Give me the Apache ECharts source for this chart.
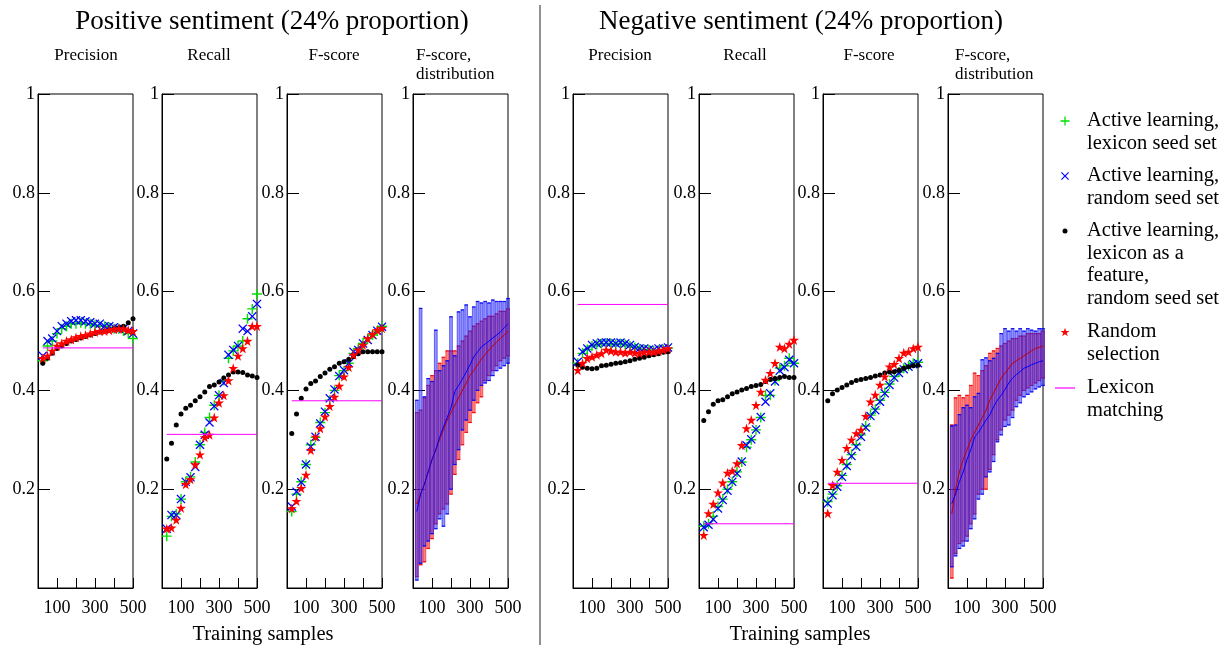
<!DOCTYPE html>
<html>
<head>
<meta charset="utf-8">
<script src="https://cdn.jsdelivr.net/npm/echarts@6/dist/echarts.min.js"></script>
<style>
  html, body { margin: 0; background: #fff; }
  #chart { width: 1230px; height: 645px; }
</style>
</head>
<body>
<div id="chart"></div>
<script>
// training sample sizes for the scatter panels and the distribution panels
const xs = [25, 50, 75, 100, 125, 150, 175, 200, 225, 250, 275, 300, 325, 350, 375, 400, 425, 450, 475, 500];
const xd = [20, 40, 60, 80, 100, 120, 140, 160, 180, 200, 220, 240, 260, 280, 300, 320, 340, 360, 380, 400, 420, 440, 460, 480, 500];
const xTicks = [100, 300, 500];
const yTicks = [0.2, 0.4, 0.6, 0.8, 1];

// positive sentiment
const posPrecGreen = [0.46, 0.49, 0.50, 0.515, 0.525, 0.53, 0.535, 0.535, 0.537, 0.535, 0.535, 0.532, 0.53, 0.53, 0.528, 0.525, 0.525, 0.52, 0.515, 0.505];
const posPrecBlue  = [0.47, 0.50, 0.505, 0.52, 0.53, 0.535, 0.54, 0.542, 0.542, 0.54, 0.538, 0.535, 0.535, 0.53, 0.53, 0.528, 0.525, 0.525, 0.52, 0.515];
const posPrecBlack = [0.455, 0.465, 0.475, 0.485, 0.49, 0.495, 0.50, 0.503, 0.506, 0.509, 0.512, 0.515, 0.518, 0.52, 0.522, 0.525, 0.527, 0.53, 0.537, 0.545];
const posPrecRed   = [0.465, 0.47, 0.48, 0.49, 0.495, 0.50, 0.503, 0.507, 0.51, 0.512, 0.515, 0.518, 0.52, 0.52, 0.522, 0.524, 0.525, 0.525, 0.522, 0.52];

const posRecGreen = [0.105, 0.145, 0.15, 0.18, 0.215, 0.225, 0.255, 0.29, 0.315, 0.345, 0.37, 0.39, 0.42, 0.465, 0.48, 0.49, 0.50, 0.545, 0.565, 0.595];
const posRecBlue  = [0.12, 0.148, 0.148, 0.18, 0.215, 0.224, 0.245, 0.29, 0.31, 0.335, 0.368, 0.39, 0.415, 0.472, 0.482, 0.49, 0.525, 0.52, 0.55, 0.575];
const posRecBlack = [0.261, 0.293, 0.330, 0.352, 0.364, 0.370, 0.379, 0.387, 0.397, 0.408, 0.411, 0.417, 0.425, 0.431, 0.437, 0.437, 0.436, 0.431, 0.429, 0.426];
const posRecRed   = [0.12, 0.122, 0.138, 0.162, 0.21, 0.22, 0.25, 0.27, 0.305, 0.31, 0.345, 0.375, 0.39, 0.42, 0.445, 0.47, 0.485, 0.50, 0.53, 0.53];

const posFGreen = [0.155, 0.19, 0.215, 0.25, 0.29, 0.305, 0.335, 0.355, 0.38, 0.40, 0.43, 0.44, 0.455, 0.475, 0.485, 0.495, 0.505, 0.512, 0.52, 0.53];
const posFBlue  = [0.165, 0.195, 0.214, 0.25, 0.286, 0.306, 0.333, 0.357, 0.384, 0.402, 0.429, 0.441, 0.455, 0.478, 0.482, 0.495, 0.502, 0.512, 0.521, 0.529];
const posFBlack = [0.313, 0.352, 0.384, 0.403, 0.414, 0.419, 0.428, 0.435, 0.443, 0.448, 0.455, 0.458, 0.463, 0.468, 0.474, 0.478, 0.478, 0.478, 0.478, 0.478];
const posFRed   = [0.161, 0.176, 0.202, 0.229, 0.279, 0.306, 0.323, 0.347, 0.368, 0.387, 0.409, 0.428, 0.447, 0.472, 0.482, 0.492, 0.505, 0.514, 0.522, 0.526];

const lexPos = [0.486, 0.311, 0.379];

const posDistRedLo   = [0.023, 0.047, 0.053, 0.08, 0.10, 0.13, 0.15, 0.16, 0.17, 0.19, 0.23, 0.26, 0.29, 0.315, 0.335, 0.355, 0.375, 0.387, 0.42, 0.43, 0.44, 0.45, 0.46, 0.465, 0.47];
const posDistRedHi   = [0.355, 0.36, 0.385, 0.41, 0.43, 0.44, 0.455, 0.467, 0.48, 0.48, 0.48, 0.49, 0.50, 0.51, 0.52, 0.53, 0.535, 0.54, 0.545, 0.55, 0.55, 0.555, 0.56, 0.56, 0.565];
const posDistRedMean = [0.17, 0.19, 0.21, 0.235, 0.26, 0.28, 0.30, 0.32, 0.34, 0.355, 0.37, 0.385, 0.40, 0.415, 0.43, 0.44, 0.452, 0.463, 0.473, 0.482, 0.49, 0.498, 0.505, 0.512, 0.52];
const posDistBlueLo   = [0.016, 0.05, 0.085, 0.095, 0.11, 0.12, 0.14, 0.125, 0.15, 0.2, 0.25, 0.28, 0.32, 0.34, 0.36, 0.38, 0.40, 0.41, 0.415, 0.42, 0.43, 0.44, 0.445, 0.45, 0.455];
const posDistBlueHi   = [0.38, 0.566, 0.387, 0.424, 0.418, 0.522, 0.44, 0.45, 0.46, 0.549, 0.47, 0.559, 0.563, 0.573, 0.549, 0.569, 0.58, 0.577, 0.58, 0.577, 0.583, 0.58, 0.58, 0.58, 0.586];
const posDistBlueMean = [0.155, 0.19, 0.21, 0.235, 0.26, 0.28, 0.305, 0.326, 0.345, 0.365, 0.398, 0.41, 0.423, 0.437, 0.452, 0.468, 0.478, 0.488, 0.494, 0.50, 0.506, 0.512, 0.518, 0.527, 0.535];

// negative sentiment
const negPrecGreen = [0.455, 0.475, 0.483, 0.49, 0.493, 0.495, 0.495, 0.495, 0.493, 0.495, 0.493, 0.49, 0.487, 0.484, 0.483, 0.482, 0.48, 0.482, 0.483, 0.485];
const negPrecBlue  = [0.458, 0.478, 0.485, 0.492, 0.495, 0.497, 0.497, 0.497, 0.495, 0.497, 0.495, 0.492, 0.488, 0.485, 0.485, 0.483, 0.482, 0.485, 0.485, 0.487];
const negPrecBlack = [0.451, 0.447, 0.445, 0.444, 0.445, 0.450, 0.451, 0.453, 0.455, 0.456, 0.458, 0.460, 0.463, 0.465, 0.467, 0.470, 0.472, 0.474, 0.477, 0.478];
const negPrecRed   = [0.441, 0.455, 0.465, 0.468, 0.472, 0.475, 0.482, 0.480, 0.478, 0.478, 0.476, 0.478, 0.476, 0.475, 0.478, 0.478, 0.478, 0.480, 0.482, 0.485];

const negRecGreen = [0.125, 0.13, 0.145, 0.165, 0.18, 0.2, 0.215, 0.235, 0.255, 0.285, 0.30, 0.32, 0.345, 0.39, 0.39, 0.42, 0.445, 0.45, 0.465, 0.455];
const negRecBlue  = [0.123, 0.128, 0.139, 0.161, 0.178, 0.197, 0.215, 0.232, 0.256, 0.289, 0.301, 0.321, 0.346, 0.377, 0.394, 0.418, 0.440, 0.447, 0.462, 0.455];
const negRecBlack = [0.339, 0.357, 0.372, 0.379, 0.381, 0.387, 0.393, 0.397, 0.401, 0.404, 0.408, 0.410, 0.412, 0.418, 0.422, 0.424, 0.426, 0.428, 0.426, 0.426];
const negRecRed   = [0.107, 0.151, 0.170, 0.193, 0.213, 0.233, 0.237, 0.252, 0.289, 0.323, 0.340, 0.370, 0.397, 0.421, 0.435, 0.455, 0.488, 0.485, 0.494, 0.502];

const negFGreen = [0.175, 0.19, 0.207, 0.228, 0.25, 0.27, 0.29, 0.31, 0.328, 0.35, 0.362, 0.38, 0.396, 0.413, 0.428, 0.437, 0.445, 0.45, 0.455, 0.457];
const negFBlue  = [0.171, 0.188, 0.205, 0.225, 0.247, 0.267, 0.286, 0.306, 0.325, 0.348, 0.360, 0.377, 0.394, 0.411, 0.426, 0.435, 0.443, 0.448, 0.453, 0.455];
const negFBlack = [0.379, 0.393, 0.401, 0.406, 0.411, 0.416, 0.420, 0.422, 0.424, 0.426, 0.429, 0.431, 0.435, 0.437, 0.438, 0.441, 0.445, 0.448, 0.450, 0.451];
const negFRed   = [0.151, 0.208, 0.235, 0.259, 0.283, 0.300, 0.313, 0.320, 0.348, 0.377, 0.391, 0.411, 0.428, 0.448, 0.453, 0.465, 0.476, 0.478, 0.485, 0.488];

const lexNeg = [0.574, 0.130, 0.212];

const negDistRedLo   = [0.02, 0.07, 0.09, 0.095, 0.105, 0.13, 0.15, 0.19, 0.2, 0.2, 0.24, 0.27, 0.30, 0.32, 0.34, 0.35, 0.36, 0.38, 0.39, 0.40, 0.405, 0.41, 0.415, 0.42, 0.425];
const negDistRedHi   = [0.33, 0.385, 0.39, 0.385, 0.39, 0.41, 0.435, 0.43, 0.44, 0.45, 0.475, 0.48, 0.485, 0.49, 0.495, 0.5, 0.505, 0.505, 0.51, 0.51, 0.515, 0.515, 0.515, 0.515, 0.52];
const negDistRedMean = [0.15, 0.2, 0.235, 0.26, 0.28, 0.3, 0.315, 0.33, 0.345, 0.36, 0.38, 0.395, 0.41, 0.425, 0.435, 0.445, 0.455, 0.46, 0.465, 0.47, 0.475, 0.48, 0.485, 0.487, 0.49];
const negDistBlueLo   = [0.043, 0.065, 0.08, 0.085, 0.095, 0.12, 0.14, 0.18, 0.19, 0.225, 0.235, 0.256, 0.296, 0.31, 0.327, 0.33, 0.345, 0.367, 0.375, 0.387, 0.392, 0.397, 0.403, 0.407, 0.41];
const negDistBlueHi   = [0.328, 0.33, 0.351, 0.365, 0.37, 0.365, 0.387, 0.394, 0.462, 0.466, 0.46, 0.465, 0.475, 0.515, 0.525, 0.52, 0.525, 0.52, 0.525, 0.52, 0.525, 0.522, 0.52, 0.525, 0.525];
const negDistBlueMean = [0.171, 0.19, 0.215, 0.235, 0.26, 0.28, 0.305, 0.315, 0.327, 0.34, 0.35, 0.367, 0.38, 0.39, 0.402, 0.415, 0.425, 0.432, 0.438, 0.445, 0.448, 0.452, 0.455, 0.458, 0.46];

const FONT = "'Liberation Serif', 'DejaVu Serif', serif";
const NAME_GREEN = 'Active learning, lexicon seed set';
const NAME_BLUE = 'Active learning, random seed set';
const NAME_BLACK = 'Active learning, lexicon as a feature, random seed set';
const NAME_RED = 'Random selection';
const NAME_LEX = 'Lexicon matching';

const gridLefts = [38, 162, 287, 413, 573, 699, 823, 948];

const PLUS = 'path://M4.3,0H5.7V4.3H10V5.7H5.7V10H4.3V5.7H0V4.3H4.3Z';
const CROSS = 'path://M1,0L5,4L9,0L10,1L6,5L10,9L9,10L5,6L1,10L0,9L4,5L0,1Z';
let STAR = 'path://';
for (let k = 0; k < 10; k++) {
  const r = k % 2 === 0 ? 10 : 3.8;
  const a = -Math.PI / 2 + k * Math.PI / 5;
  STAR += (k === 0 ? 'M' : 'L') + (10 + r * Math.cos(a)).toFixed(2) + ',' + (10 + r * Math.sin(a)).toFixed(2);
}
STAR += 'Z';

const chart = echarts.init(document.getElementById('chart'));

const grids = gridLefts.map(l => ({
  left: l, top: 94, width: 95, height: 494,
  show: true, borderColor: '#000', borderWidth: 1, backgroundColor: 'transparent'
}));

const xAxes = gridLefts.map((l, i) => ({
  gridIndex: i, type: 'value', min: 0, max: 500, interval: 100,
  axisLine: { show: true, lineStyle: { color: '#000' } },
  axisTick: { show: true, inside: true, length: 10, lineStyle: { color: '#000' } },
  axisLabel: {
    color: '#000', fontFamily: FONT, fontSize: 18, margin: 11,
    formatter: v => xTicks.indexOf(v) >= 0 ? String(v) : ''
  },
  splitLine: { show: false }
}));

const yAxes = gridLefts.map((l, i) => ({
  gridIndex: i, type: 'value', min: 0, max: 1, interval: 0.2,
  axisLine: { show: true, lineStyle: { color: '#000' } },
  axisTick: { show: true, inside: true, length: 12, lineStyle: { color: '#000' } },
  axisLabel: {
    color: '#000', fontFamily: FONT, fontSize: 18, margin: 3,
    formatter: v => {
      const t = yTicks.find(y => Math.abs(y - v) < 1e-6);
      if (t === undefined) return '';
      return t === 1 ? '1' : t.toFixed(1);
    }
  },
  splitLine: { show: false }
}));

const series = [];

function pts(xv, ys) { return xv.map((x, i) => [x, ys[i]]); }

function addScatterPanel(g, green, blue, black, red, lex) {
  series.push({
    name: NAME_LEX, type: 'line', xAxisIndex: g, yAxisIndex: g,
    data: [[xs[0], lex], [xs[xs.length - 1], lex]], symbol: 'none',
    lineStyle: { color: '#ff00ff', width: 1 }, itemStyle: { color: '#ff00ff' }
  });
  series.push({ name: NAME_GREEN, type: 'scatter', xAxisIndex: g, yAxisIndex: g, data: pts(xs, green),
    symbol: PLUS, symbolSize: 10, itemStyle: { color: '#00e000', opacity: 1 } });
  series.push({ name: NAME_BLUE, type: 'scatter', xAxisIndex: g, yAxisIndex: g, data: pts(xs, blue),
    symbol: CROSS, symbolSize: 9, itemStyle: { color: '#0000ff', opacity: 1 } });
  series.push({ name: NAME_BLACK, type: 'scatter', xAxisIndex: g, yAxisIndex: g, data: pts(xs, black),
    symbol: 'circle', symbolSize: 5, itemStyle: { color: '#000', opacity: 1 } });
  series.push({ name: NAME_RED, type: 'scatter', xAxisIndex: g, yAxisIndex: g, data: pts(xs, red),
    symbol: STAR, symbolSize: 10, itemStyle: { color: '#ff0000', opacity: 1 } });
}

function barRender(fill, stroke) {
  return function (params, api) {
    const x = api.value(0);
    const lo = api.coord([x, api.value(1)]);
    const hi = api.coord([x, api.value(2)]);
    return {
      type: 'group',
      children: [
        { type: 'rect', shape: { x: lo[0] - 1.4, y: hi[1], width: 2.8, height: lo[1] - hi[1] },
          style: { fill: fill, stroke: stroke, lineWidth: 0.6 } },
        { type: 'line', shape: { x1: hi[0] - 1.8, y1: hi[1], x2: hi[0] + 1.8, y2: hi[1] },
          style: { stroke: stroke, lineWidth: 1.2 } },
        { type: 'line', shape: { x1: lo[0] - 1.8, y1: lo[1], x2: lo[0] + 1.8, y2: lo[1] },
          style: { stroke: stroke, lineWidth: 1.2 } }
      ]
    };
  };
}

function addDistPanel(g, rLo, rHi, rMean, bLo, bHi, bMean) {
  series.push({ name: 'Random selection, distribution', type: 'custom', xAxisIndex: g, yAxisIndex: g,
    data: xd.map((x, i) => [x, rLo[i], rHi[i]]), encode: { x: 0, y: [1, 2] },
    renderItem: barRender('rgba(255,40,40,0.6)', 'rgba(240,0,0,0.85)') });
  series.push({ name: 'Random selection, mean', type: 'line', xAxisIndex: g, yAxisIndex: g,
    data: pts(xd, rMean), symbol: 'none', lineStyle: { color: '#c00000', width: 1 } });
  series.push({ name: 'Active learning, distribution', type: 'custom', xAxisIndex: g, yAxisIndex: g,
    data: xd.map((x, i) => [x, bLo[i], bHi[i]]), encode: { x: 0, y: [1, 2] },
    renderItem: barRender('rgba(50,50,255,0.52)', 'rgba(0,0,240,0.85)') });
  series.push({ name: 'Active learning, mean', type: 'line', xAxisIndex: g, yAxisIndex: g,
    data: pts(xd, bMean), symbol: 'none', lineStyle: { color: '#0000ff', width: 1 } });
}

addScatterPanel(0, posPrecGreen, posPrecBlue, posPrecBlack, posPrecRed, lexPos[0]);
addScatterPanel(1, posRecGreen, posRecBlue, posRecBlack, posRecRed, lexPos[1]);
addScatterPanel(2, posFGreen, posFBlue, posFBlack, posFRed, lexPos[2]);
addDistPanel(3, posDistRedLo, posDistRedHi, posDistRedMean, posDistBlueLo, posDistBlueHi, posDistBlueMean);
addScatterPanel(4, negPrecGreen, negPrecBlue, negPrecBlack, negPrecRed, lexNeg[0]);
addScatterPanel(5, negRecGreen, negRecBlue, negRecBlack, negRecRed, lexNeg[1]);
addScatterPanel(6, negFGreen, negFBlue, negFBlack, negFRed, lexNeg[2]);
addDistPanel(7, negDistRedLo, negDistRedHi, negDistRedMean, negDistBlueLo, negDistBlueHi, negDistBlueMean);

function txt(text, x, y, size, lh, align) {
  return {
    text: text, left: x, top: y, textAlign: align || 'center', padding: 0,
    textStyle: { fontFamily: FONT, fontSize: size, fontWeight: 'normal', color: '#000', lineHeight: lh }
  };
}

// legend: icons through the legend component, wrapped labels as text blocks beside them
const LH = 22.5;
const legendItems = [
  { name: NAME_GREEN, label: 'Active learning,\nlexicon seed set', center: 121, size: 9 },
  { name: NAME_BLUE, label: 'Active learning,\nrandom seed set', center: 176, size: 8 },
  { name: NAME_BLACK, label: 'Active learning,\nlexicon as a\nfeature,\nrandom seed set', center: 231, size: 5 },
  { name: NAME_RED, label: 'Random\nselection', center: 332, size: 9 },
  { name: NAME_LEX, label: 'Lexicon\nmatching', center: 388, size: 0 }
];

const legends = legendItems.map(it => {
  const isLine = it.name === NAME_LEX;
  const w = isLine ? 20 : it.size;
  const h = isLine ? 1.2 : it.size;
  return {
    data: isLine ? [{ name: it.name, icon: 'rect' }] : [it.name],
    left: 1065 - w / 2,
    top: it.center - h / 2,
    padding: 0,
    itemWidth: w, itemHeight: h,
    selectedMode: false,
    formatter: () => '',
    textStyle: { fontSize: 1 }
  };
});

const titles = [
  txt('Positive sentiment (24% proportion)', 272, 6, 27, 32),
  txt('Negative sentiment (24% proportion)', 801, 6, 27, 32),
  txt('Precision', 86, 46, 17, 19),
  txt('Recall', 209, 46, 17, 19),
  txt('F-score', 334, 46, 17, 19),
  txt('F-score,\ndistribution', 416, 46, 17, 19, 'left'),
  txt('Precision', 620, 46, 17, 19),
  txt('Recall', 745, 46, 17, 19),
  txt('F-score', 869, 46, 17, 19),
  txt('F-score,\ndistribution', 955, 46, 17, 19, 'left'),
  txt('Training samples', 263, 624, 20.5, 22),
  txt('Training samples', 800, 624, 20.5, 22)
].concat(legendItems.map(it => txt(it.label, 1087, it.center - LH / 2, 20.5, LH, 'left')));

chart.setOption({
  animation: false,
  backgroundColor: '#fff',
  title: titles,
  legend: legends,
  grid: grids,
  xAxis: xAxes,
  yAxis: yAxes,
  series: series,
  graphic: [{
    type: 'line', shape: { x1: 540, y1: 5, x2: 540, y2: 645 },
    style: { stroke: '#222', lineWidth: 1 }
  }]
});
</script>
</body>
</html>
